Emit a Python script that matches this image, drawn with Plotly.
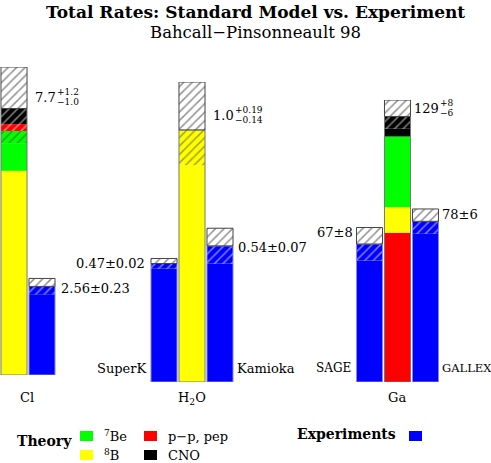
import plotly.graph_objects as go

W, H = 491, 463

# ---------------- data ----------------
comp_colors = {"p-p, pep": "#ff0000", "7Be": "#00ff00", "8B": "#ffff00", "CNO": "#000000"}
hatch_colors = {"p-p, pep": "#ffffff", "7Be": "#ffffff", "8B": "#000000", "CNO": "#dddddd"}
exp_color = "#0000ff"

# Chlorine (SNU)
cl_components = ["8B", "7Be", "p-p, pep", "CNO"]
cl_values = [5.9, 1.15, 0.2, 0.45]
cl_err = (1.2, 1.0)
cl_label = ("7.7", "+1.2", "\u22121.0")
cl_exp_names = ["Cl exp"]
cl_exp_values = [2.56]
cl_exp_errors = [0.23]
cl_exp_labels = ["2.56\u00b10.23"]

# Water Cherenkov (ratio to BP98)
h2o_components = ["8B"]
h2o_values = [1.0]
h2o_err = (0.19, 0.14)
h2o_label = ("1.0", "+0.19", "\u22120.14")
h2o_exp_names = ["SuperK", "Kamioka"]
h2o_exp_values = [0.47, 0.54]
h2o_exp_errors = [0.02, 0.07]
h2o_exp_labels = ["0.47\u00b10.02", "0.54\u00b10.07"]

# Gallium (SNU)
ga_components = ["p-p, pep", "8B", "7Be", "CNO"]
ga_values = [72.4, 12.4, 34.4, 9.7]
ga_err = (8, 6)
ga_label = ("129", "+8", "\u22126")
ga_exp_names = ["SAGE", "GALLEX"]
ga_exp_values = [67, 78]
ga_exp_errors = [8, 6]
ga_exp_labels = ["67\u00b18", "78\u00b16"]

FONT = "DejaVu Serif"


def px(x):
    return x / W


def py(y):
    return 1 - y / H


fig = go.Figure()


def add_panel(ax, model_name, comps, vals, err, exp_names, exp_vals, exp_errs):
    xa = "x" if ax == 1 else "x%d" % ax
    ya = "y" if ax == 1 else "y%d" % ax
    total = sum(vals)
    low = total - err[1]
    xs, bases, hs, cols, shapes, fgs = [], [], [], [], [], []
    cum = 0.0
    for name, v in zip(comps, vals):
        top = cum + v
        if cum < low:
            st = min(top, low)
            xs.append(model_name); bases.append(cum); hs.append(st - cum)
            cols.append(comp_colors[name]); shapes.append(""); fgs.append(comp_colors[name])
        if top > low:
            s = max(cum, low)
            xs.append(model_name); bases.append(s); hs.append(top - s)
            cols.append(comp_colors[name]); shapes.append("/"); fgs.append(hatch_colors[name])
        cum = top
    # experiments
    for n, v, e in zip(exp_names, exp_vals, exp_errs):
        xs += [n, n]
        bases += [0, v - e]
        hs += [v - e, e]
        cols += [exp_color, exp_color]
        shapes += ["", "/"]
        fgs += [exp_color, "#ccccff"]
    fig.add_trace(go.Bar(
        x=xs, y=hs, base=bases, xaxis=xa, yaxis=ya, width=0.93,
        marker=dict(color=cols, line=dict(width=0),
                    pattern=dict(shape=shapes, fgcolor=fgs, bgcolor=cols,
                                 size=6, solidity=0.25, fillmode="overlay")),
        showlegend=False, hoverinfo="skip"))
    # full-bar outlines
    onames = [model_name] + list(exp_names)
    otops = [total] + [v for v in exp_vals]
    fig.add_trace(go.Bar(
        x=onames, y=otops, base=[0] * len(onames), xaxis=xa, yaxis=ya, width=0.93,
        marker=dict(color="rgba(0,0,0,0)",
                    line=dict(width=1, color=["#777777"] + ["#8888dd"] * len(exp_names))),
        showlegend=False, hoverinfo="skip"))
    # white hatched upper uncertainty boxes
    ub = [total] + list(exp_vals)
    uh = [err[0]] + list(exp_errs)
    fig.add_trace(go.Bar(
        x=onames, y=uh, base=ub, xaxis=xa, yaxis=ya, width=0.93,
        marker=dict(color="white", line=dict(width=1, color="#444444"),
                    pattern=dict(shape="/", fgcolor="#222222", bgcolor="white",
                                 size=6, solidity=0.25, fillmode="overlay")),
        showlegend=False, hoverinfo="skip"))
    return total + err[0]


cl_max = add_panel(1, "Cl model", cl_components, cl_values, cl_err,
                   cl_exp_names, cl_exp_values, cl_exp_errors)
h2o_max = add_panel(2, "H2O model", h2o_components, h2o_values, h2o_err,
                    h2o_exp_names, h2o_exp_values, h2o_exp_errors)
ga_max = add_panel(3, "Ga model", ga_components, ga_values, ga_err,
                   ga_exp_names, ga_exp_values, ga_exp_errors)

hidden = dict(visible=False, fixedrange=True)
fig.update_layout(
    width=W, height=H, margin=dict(l=0, r=0, t=0, b=0),
    paper_bgcolor="white", plot_bgcolor="white", barmode="overlay",
    font=dict(family=FONT, color="black"),
    xaxis=dict(hidden, type="category", categoryarray=["Cl model"] + cl_exp_names,
               range=[-0.5, 1.5], domain=[px(0), px(56)]),
    yaxis=dict(hidden, range=[0, cl_max], domain=[py(375), py(67)]),
    xaxis2=dict(hidden, type="category",
                categoryarray=[h2o_exp_names[0], "H2O model", h2o_exp_names[1]],
                range=[-0.5, 2.5], domain=[px(150), px(234)]),
    yaxis2=dict(hidden, range=[0, h2o_max], domain=[py(382), py(82)]),
    xaxis3=dict(hidden, type="category",
                categoryarray=[ga_exp_names[0], "Ga model", ga_exp_names[1]],
                range=[-0.5, 2.5], domain=[px(355.5), px(439.5)]),
    yaxis3=dict(hidden, range=[0, ga_max], domain=[py(382), py(100)]),
)

ann = []


def text(x, y, s, size=13, xanchor="left", bold=False):
    if bold:
        s = "<b>%s</b>" % s
    ann.append(dict(x=px(x), y=py(y), xref="paper", yref="paper", text=s,
                    showarrow=False, xanchor=xanchor, yanchor="middle",
                    font=dict(size=size, family=FONT, color="black")))


CHAR_W = {".": 0.318}


def valerr(x, y, lab, size=13, ssize=9):
    text(x, y, lab[0], size=size)
    w = sum(CHAR_W.get(c, 0.636) for c in lab[0]) * size + 1
    text(x + w, y - 5, lab[1], size=ssize)
    text(x + w, y + 5, lab[2], size=ssize)


# titles
text(255, 12, "Total Rates: Standard Model vs. Experiment", size=17, xanchor="center", bold=True)
text(255.5, 33, "Bahcall\u2212Pinsonneault 98", size=16.5, xanchor="center")

# model labels with asymmetric errors
valerr(33, 97, cl_label)
valerr(211, 115, h2o_label)
valerr(412, 108, ga_label)

# experiment value labels
text(59, 288, cl_exp_labels[0], size=13)
text(147, 263, h2o_exp_labels[0], size=13, xanchor="right")
text(236, 247, h2o_exp_labels[1], size=13)
text(355, 233, ga_exp_labels[0], size=13, xanchor="right")
text(440, 214, ga_exp_labels[1], size=13)

# experiment names
text(149, 368, h2o_exp_names[0], size=13, xanchor="right")
text(235, 368, h2o_exp_names[1], size=13)
text(353, 368, ga_exp_names[0], size=12, xanchor="right")
text(440, 368, ga_exp_names[1], size=11.5)

# detector labels
text(27, 397, "Cl", size=13, xanchor="center")
text(192, 398, "H<sub>2</sub>O", size=13, xanchor="center")
text(397, 397, "Ga", size=13, xanchor="center")

# legend
text(15, 441, "Theory", size=14, bold=True)
text(295, 434, "Experiments", size=14, bold=True)
leg = [(80, 436, comp_colors["7Be"], "<sup>7</sup>Be"),
       (144, 436, comp_colors["p-p, pep"], "p\u2212p, pep"),
       (80, 455, comp_colors["8B"], "<sup>8</sup>B"),
       (144, 455, comp_colors["CNO"], "CNO")]
shapes = []
for x, y, c, lab in leg:
    shapes.append(dict(type="rect", xref="paper", yref="paper",
                       x0=px(x), x1=px(x + 13), y0=py(y + 5), y1=py(y - 5),
                       fillcolor=c, line=dict(width=0)))
    text(x + 22, y, lab, size=13)
shapes.append(dict(type="rect", xref="paper", yref="paper",
                   x0=px(409), x1=px(422), y0=py(441), y1=py(431),
                   fillcolor=exp_color, line=dict(width=0)))

fig.update_layout(annotations=ann, shapes=shapes)
fig.write_html("out.html", config={"displayModeBar": False},
               post_script="document.body.style.margin='0';document.body.style.padding='0';")
